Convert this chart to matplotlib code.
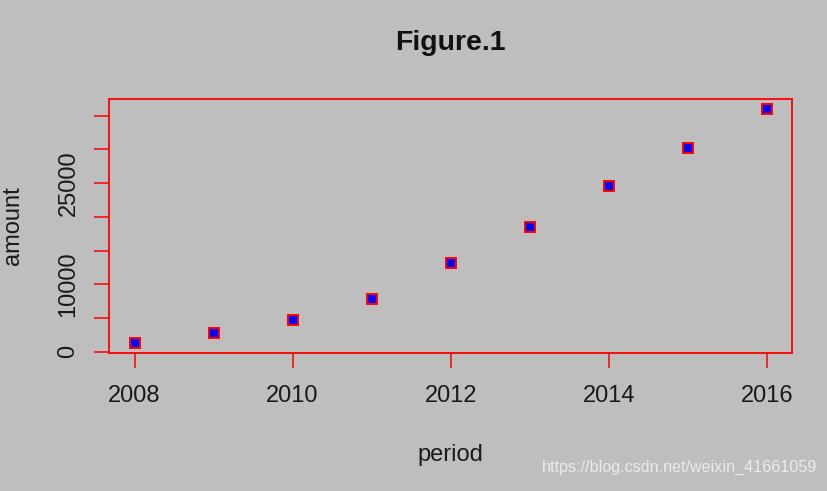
import numpy as np
import matplotlib
matplotlib.use('Agg')
import matplotlib.pyplot as plt

# ── data ─────────────────────────────────────────────────────────────────────
period = [2008, 2009, 2010, 2011, 2012, 2013, 2014, 2015, 2016]
amount = [1290, 2730, 4660, 7860, 13120, 18550, 24540, 30220, 35960]

x_ticks = [2008, 2010, 2012, 2014, 2016]
y_ticks = [0, 5000, 10000, 15000, 20000, 25000, 30000, 35000]
y_tick_labels = ['0', '', '10000', '', '', '25000', '', '']

BG = '#BEBEBE'
plt.rcParams['font.family'] = ['Liberation Sans', 'DejaVu Sans']

# ── plot ─────────────────────────────────────────────────────────────────────
fig = plt.figure(figsize=(8.27, 4.91), dpi=100, facecolor=BG)
ax = fig.add_axes([109.3 / 827, 1 - 352.7 / 491, (792 - 109.3) / 827, (352.7 - 99.3) / 491])
ax.set_facecolor(BG)

ax.plot(period, amount, linestyle='none', marker='s', markersize=7.2,
        markerfacecolor='#0000FF', markeredgecolor='#FF0000', markeredgewidth=1.4)

# R-style 4% range extension
rx = max(period) - min(period)
ry = max(amount) - min(amount)
ax.set_xlim(min(period) - 0.04 * rx, max(period) + 0.04 * rx)
ax.set_ylim(min(amount) - 0.04 * ry - 60, max(amount) + 0.04 * ry + 90)

ax.set_xticks(x_ticks)
ax.set_yticks(y_ticks)
ax.set_yticklabels(y_tick_labels, rotation=90, va='center')

for s in ax.spines.values():
    s.set_color('#FF0000')
    s.set_linewidth(1.3)
ax.tick_params(colors='#FF0000', labelcolor='#1a1a1a', width=1.1, length=10.5,
               labelsize=17)
ax.tick_params(axis='x', pad=12.5)
ax.tick_params(axis='y', pad=11)

ax.set_xlabel('period', fontsize=17, color='#1a1a1a', va='center')
ax.xaxis.set_label_coords(0.5, -(455.5 - 352.7) / 253.4)
ax.set_ylabel('amount', fontsize=17, color='#1a1a1a', va='center')
ax.yaxis.set_label_coords((12.5 - 109.3) / 682.7, 0.5)

fig.text(450.5 / 827, 1 - 43 / 491, 'Figure.1', fontsize=20.5, fontweight='bold',
         ha='center', va='center', color='#111111')

fig.text(817 / 827, 1 - 467 / 491, 'https://blog.csdn.net/weixin_41661059',
         fontsize=11.6, ha='right', va='center', color='#EBEBEB')

plt.savefig('out.png', dpi=100, facecolor=BG)
